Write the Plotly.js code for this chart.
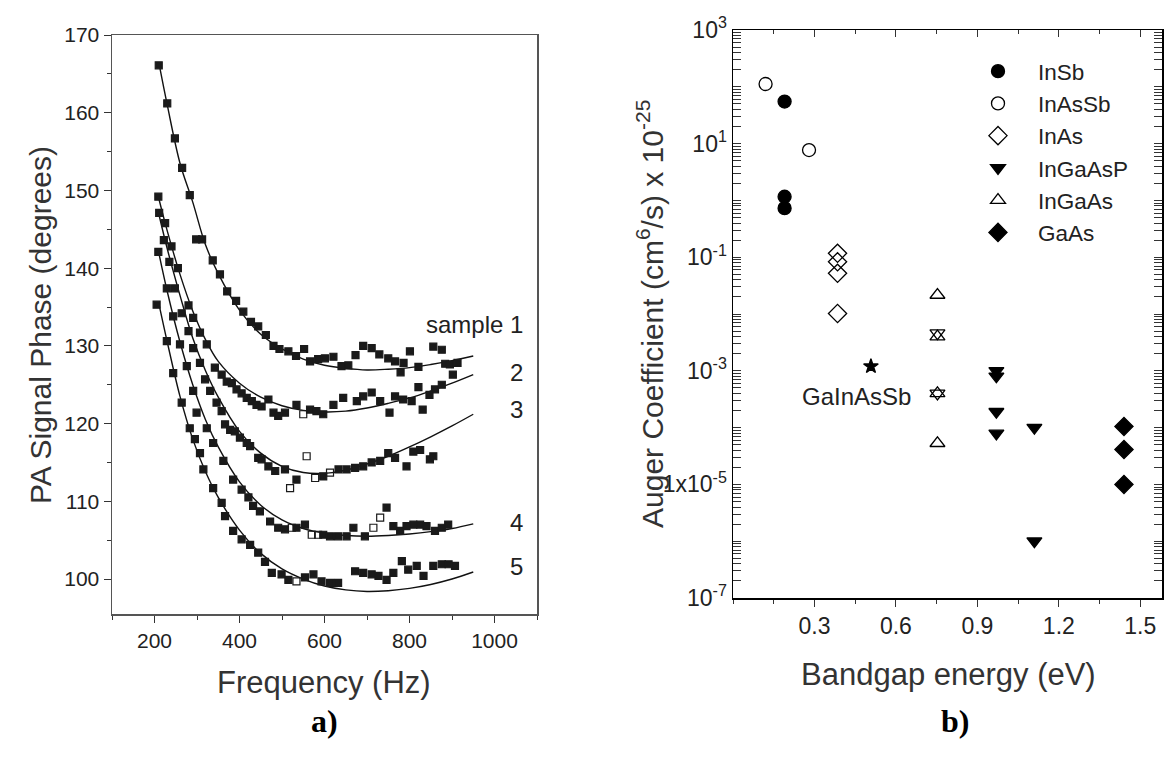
<!DOCTYPE html>
<html>
<head>
<meta charset="utf-8">
<script src="https://cdn.plot.ly/plotly-3.0.1.min.js"></script>
<style>html,body{margin:0;padding:0;background:#fff;}#chart{width:1173px;height:774px;}</style>
</head>
<body>
<div id="chart"></div>
<script>
// ---------- Panel a) PA signal phase vs frequency ----------
const freq1 = [210,230,248,265,283,298,312,337,354,371,392,409,427,444,462,480,494,515,533,552,566,585,601,621,640,656,673,691,711,729,750,766,779,786,801,821,856,876,884,895,902,913];
const phase1 = [166.1,161.2,156.7,152.9,149.4,143.7,143.7,141.0,139.2,137.0,135.8,134.4,133.1,132.5,131.4,130.0,129.6,129.3,128.7,129.6,128.0,128.3,128.4,128.6,127.4,127.5,128.8,130.0,129.7,128.9,128.4,128.0,126.6,127.8,129.3,127.3,129.9,129.5,127.7,127.6,126.3,127.8];

const freq2 = [209,225,240,255,280,291,307,323,342,358,370,382,393,405,417,429,440,452,468,480,491,507,534,550,566,581,597,621,644,676,691,711,731,753,766,785,805,821,831,847,860,876];
const phase2 = [149.2,145.8,142.8,140.0,135.2,133.6,131.7,130.2,127.2,126.3,125.4,125.2,124.4,123.9,123.3,122.9,122.4,122.2,123.1,121.4,121.0,121.4,122.4,121.2,121.8,121.6,121.2,122.4,123.3,122.9,123.5,124.0,122.9,121.4,123.5,123.1,122.9,124.7,121.8,123.7,124.4,125.0];
const open2 = [550];

const freq3 = [211,222,235,248,264,280,291,307,319,331,346,358,366,378,389,401,417,425,444,452,468,484,507,519,534,558,578,597,613,633,652,672,691,711,731,750,766,793,809,825,848,856];
const phase3 = [147.1,143.6,140.8,137.4,134.2,131.9,129.7,127.8,125.7,124.2,122.7,121.6,119.9,119.2,119.0,118.2,117.5,117.1,115.6,115.4,114.5,113.9,114.1,111.7,112.8,115.8,113.0,113.2,113.7,114.1,114.1,114.3,114.5,115.0,115.2,116.2,115.6,114.5,116.4,116.6,115.4,115.8];
const open3 = [519,558,578,613];

const freq4 = [209,229,244,260,276,291,299,323,338,362,385,405,421,432,448,472,491,507,523,534,554,570,585,597,613,632,652,668,695,715,731,746,762,778,793,809,825,840,860,876,891];
const phase4 = [142.1,137.4,133.8,130.2,127.4,124.2,121.4,119.4,117.5,115.2,112.8,111.5,110.5,109.4,108.7,107.4,106.6,106.4,106.6,106.6,107.0,105.7,105.7,105.7,105.5,105.5,105.5,106.6,105.5,106.6,107.9,109.2,106.8,106.2,106.8,107.0,107.0,106.8,106.2,106.6,107.0];
const open4 = [523,570,585,715,731];

const freq5 = [205,229,244,264,283,295,307,315,338,358,366,385,405,425,444,460,476,499,515,534,554,574,593,613,632,672,691,711,727,746,762,782,797,817,833,856,876,892,907];
const phase5 = [135.3,130.6,126.5,122.7,119.4,118.0,116.2,114.1,111.7,109.8,108.1,106.2,105.1,104.4,103.4,102.2,100.8,100.6,99.9,99.7,100.2,100.6,99.7,99.5,99.5,101.0,100.8,100.6,100.4,99.9,100.8,102.3,101.2,101.7,100.4,101.7,101.9,101.9,101.7];
const open5 = [534];

// fitted curves
const fitFreq = [210,230,260,290,320,350,400,450,500,550,600,650,700,750,800,850,900,950];
const fit1 = [166.5,161.0,153.5,148.5,143.0,139.3,134.6,131.5,129.6,128.3,127.5,127.1,126.9,127.0,127.2,127.6,128.1,128.7];
const fit2 = [149.0,144.8,139.2,134.5,130.8,128.0,125.2,123.4,122.3,121.7,121.5,121.6,122.0,122.6,123.3,124.2,125.2,126.3];
const fit3 = [147.0,142.5,136.5,131.0,126.8,123.4,119.0,116.2,114.5,113.7,113.6,114.0,114.8,115.8,117.0,118.3,119.7,121.2];
const fit4 = [142.0,137.0,130.5,125.0,120.5,117.0,112.5,109.5,107.6,106.5,105.9,105.6,105.5,105.6,105.8,106.1,106.5,107.1];
const fit5 = [135.5,130.5,123.5,118.0,113.8,110.5,106.3,103.3,101.3,100.0,99.1,98.6,98.4,98.5,98.8,99.3,100.0,100.9];

const sampleLabels = ['sample 1','2','3','4','5'];
const sampleLabelY = [132.7,126.6,121.8,107.3,101.6];

// ---------- Panel b) Auger coefficient vs bandgap ----------
const gapInSb = [0.19,0.19,0.19];          const augInSb = [55,1.16,0.73];
const gapInAsSb = [0.12,0.28];             const augInAsSb = [112,7.7];
const gapInAs = [0.385,0.385,0.385,0.385]; const augInAs = [0.117,0.083,0.052,0.0102];
const gapInGaAsP = [0.97,0.97,0.97,0.97,1.11,1.11]; const augInGaAsP = [1.0e-3,8.0e-4,1.9e-4,7.9e-5,1.0e-4,1.0e-6];
const gapInGaAs = [0.753,0.753,0.753,0.753,0.753,0.753]; const augInGaAs = [0.0216,4.0e-3,4.6e-3,4.0e-4,4.0e-4,5.3e-5];
const dirInGaAs = ['up','up','down','up','down','up'];
const gapGaAs = [1.44,1.44,1.44];          const augGaAs = [1.05e-4,4.1e-5,1.0e-5];
const gapGaInAsSb = [0.508];               const augGaInAsSb = [1.2e-3];

const yTickVals = [1e3,1e2,1e1,1e0,1e-1,1e-2,1e-3,1e-4,1e-5,1e-6,1e-7];
const yTickText = ['10<sup>3</sup>','','10<sup>1</sup>','','10<sup>-1</sup>','','10<sup>-3</sup>','','1x10<sup>-5</sup>','','10<sup>-7</sup>'];
const xTickVals = [0.3,0.6,0.9,1.2,1.5];

// ---------- build ----------
const W = 1173, H = 774;
const px = v => v / W, py = v => 1 - v / H;
const FONT = 'Liberation Sans, Arial, sans-serif';
const INK = '#1a1a1a';

const sampleData = [[freq1,phase1,[]],[freq2,phase2,open2],[freq3,phase3,open3],[freq4,phase4,open4],[freq5,phase5,open5]];
const fits = [fit1,fit2,fit3,fit4,fit5];
const traces = [];
fits.forEach(f => traces.push({x: fitFreq, y: f, xaxis:'x', yaxis:'y', mode:'lines', line:{color:'#111', width:1.4, shape:'spline', smoothing:1}, showlegend:false, hoverinfo:'skip'}));
sampleData.forEach(([fx, fy, op]) => traces.push({
  x: fx, y: fy, xaxis:'x', yaxis:'y', mode:'markers', showlegend:false,
  marker:{symbol: fx.map(v => op.includes(v) ? 'square-open' : 'square'), size:7, color:INK, line:{color:INK, width:1.2}}
}));

const mk = (name, x, y, symbol, size) => ({x, y, name, xaxis:'x2', yaxis:'y2', mode:'markers',
  marker:{symbol, size, color:'#000', line:{color:'#000', width:1.3}}});
traces.push(mk('InSb', gapInSb, augInSb, 'circle', 13));
traces.push(mk('InAsSb', gapInAsSb, augInAsSb, 'circle-open', 13));
traces.push(mk('InAs', gapInAs, augInAs, 'diamond-open', 14));
traces.push(mk('InGaAsP', gapInGaAsP, augInGaAsP, 'triangle-down', 13));
traces.push(mk('InGaAs', gapInGaAs, augInGaAs, dirInGaAs.map(d => d === 'up' ? 'triangle-up-open' : 'triangle-down-open'), 13));
traces.push(mk('GaAs', gapGaAs, augGaAs, 'diamond', 14));
const star = mk('GaInAsSb', gapGaInAsSb, augGaInAsSb, 'star', 11);
star.showlegend = false;
traces.push(star);
// invisible helper on the top axis so its inward ticks get drawn
traces.push({x: gapGaInAsSb, y: augGaInAsSb, xaxis:'x3', yaxis:'y2', mode:'markers', marker:{opacity:0}, showlegend:false, hoverinfo:'skip'});

const axBase = {showgrid:false, zeroline:false, showline:true, ticks:'outside', tickcolor:'#333',
  tickfont:{family:FONT, size:21, color:'#222'}};

const ann = (o) => Object.assign({showarrow:false, xanchor:'center', yanchor:'middle'}, o);
const annotations = [];
sampleLabels.forEach((t,i) => annotations.push(ann({xref:'x', yref:'y', x:1072, y:sampleLabelY[i], text:t,
  xanchor:'right', font:{family:FONT, size:24, color:'#222'}})));
annotations.push(ann({xref:'paper', yref:'paper', x:px(40), y:py(325), text:'PA Signal Phase (degrees)', textangle:-90,
  font:{family:FONT, size:30, color:'#333'}}));
annotations.push(ann({xref:'paper', yref:'paper', x:px(324), y:py(682), text:'Frequency (Hz)',
  font:{family:FONT, size:31, color:'#333'}}));
annotations.push(ann({xref:'paper', yref:'paper', x:px(650), y:py(314), text:'Auger Coefficient (cm<sup>6</sup>/s) x 10<sup>-25</sup>', textangle:-90,
  font:{family:FONT, size:30, color:'#333'}}));
annotations.push(ann({xref:'paper', yref:'paper', x:px(948), y:py(674), text:'Bandgap energy (eV)',
  font:{family:FONT, size:31, color:'#333'}}));
annotations.push(ann({xref:'x2', yref:'y2', x:0.455, y:-3.456, text:'GaInAsSb',
  font:{family:FONT, size:24, color:'#222'}}));
annotations.push(ann({xref:'paper', yref:'paper', x:px(324), y:py(721), text:'<b>a)</b>',
  font:{family:'Liberation Serif, Times New Roman, serif', size:32, color:'#000'}}));
annotations.push(ann({xref:'paper', yref:'paper', x:px(955), y:py(721), text:'<b>b)</b>',
  font:{family:'Liberation Serif, Times New Roman, serif', size:32, color:'#000'}}));

const layout = {
  width:W, height:H, margin:{l:0,r:0,t:0,b:0}, paper_bgcolor:'#fff', plot_bgcolor:'rgba(0,0,0,0)',
  xaxis: Object.assign({}, axBase, {domain:[px(112), px(537)], range:[100,1100], tick0:0, dtick:200, ticklen:7,
    linecolor:'#555', linewidth:1.5, mirror:true, anchor:'y',
    minor:{ticks:'outside', dtick:100, ticklen:4, tickcolor:'#333'}}),
  yaxis: Object.assign({}, axBase, {domain:[py(614), py(35)], range:[95.5,170], dtick:10, ticklen:7,
    linecolor:'#555', linewidth:1.5, mirror:true, anchor:'x',
    minor:{ticks:'outside', dtick:5, ticklen:4, tickcolor:'#333'}}),
  xaxis2: Object.assign({}, axBase, {domain:[px(733), px(1162)], range:[0,1.58], tickmode:'array', tickvals:xTickVals, ticklen:7,
    tickfont:{family:FONT, size:23, color:'#222'},
    linecolor:'#000', linewidth:1.5, mirror:true, anchor:'y2',
    minor:{ticks:'outside', tickmode:'linear', tick0:0, dtick:0.15, ticklen:4, tickcolor:'#333'}}),
  xaxis3: {overlaying:'x2', side:'top', anchor:'y2', range:[0,1.58], tickmode:'array', tickvals:xTickVals,
    showticklabels:false, ticks:'inside', ticklen:7, tickcolor:'#333', showline:false, showgrid:false, zeroline:false,
    minor:{ticks:'inside', tickmode:'linear', tick0:0, dtick:0.15, ticklen:4, tickcolor:'#333'}},
  yaxis2: Object.assign({}, axBase, {type:'log', domain:[py(598), py(30)], range:[-7,3], tickmode:'array',
    tickvals:yTickVals, ticktext:yTickText, ticks:'inside', ticklen:8,
    tickfont:{family:FONT, size:23, color:'#222'},
    linecolor:'#000', linewidth:1.5, mirror:'allticks', anchor:'x2',
    minor:{ticks:'inside', dtick:'D1', ticklen:4, tickcolor:'#333'}}),
  showlegend:true,
  legend:{x:px(958), y:py(50), xanchor:'left', yanchor:'top', bgcolor:'rgba(0,0,0,0)', borderwidth:0,
    font:{family:FONT, size:22.5, color:'#222'}, itemwidth:70, tracegroupgap:0},
  annotations
};

Plotly.newPlot('chart', traces, layout, {staticPlot:true, displayModeBar:false});
</script>
</body>
</html>
